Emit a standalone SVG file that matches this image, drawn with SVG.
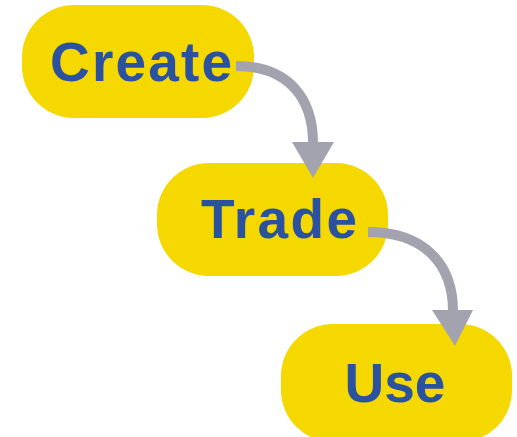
<svg xmlns="http://www.w3.org/2000/svg" width="517" height="437" viewBox="0 0 517 437">
<style>
.node rect{fill:#F5D800}
.node text{font-family:"Liberation Sans",Arial,sans-serif;font-weight:bold;font-size:55px;fill:#2A52A0;text-anchor:middle}
.conn path{fill:none;stroke:#A3A3AF;stroke-width:10}
.conn polygon{fill:#A3A3AF}
</style>
<rect width="517" height="437" fill="#fff"/>
<g id="create" class="node"><rect x="22" y="5" width="232" height="113" rx="52"/><text x="141" y="81" textLength="182" lengthAdjust="spacing">Create</text></g>
<g id="trade" class="node"><rect x="157" y="163" width="231" height="113" rx="52"/><text x="279" y="238" textLength="156" lengthAdjust="spacing">Trade</text></g>
<g id="use" class="node"><rect x="281" y="324" width="231" height="118" rx="52"/><text x="395" y="402">Use</text></g>
<g id="connectors" class="conn">
<path d="M236,66 C290,66 313,100 313,143"/>
<polygon points="292,142 334,142 313,178"/>
<path d="M368,232 C425,232 453,265 453,311"/>
<polygon points="432,310 473,310 455,346"/>
</g>
</svg>
